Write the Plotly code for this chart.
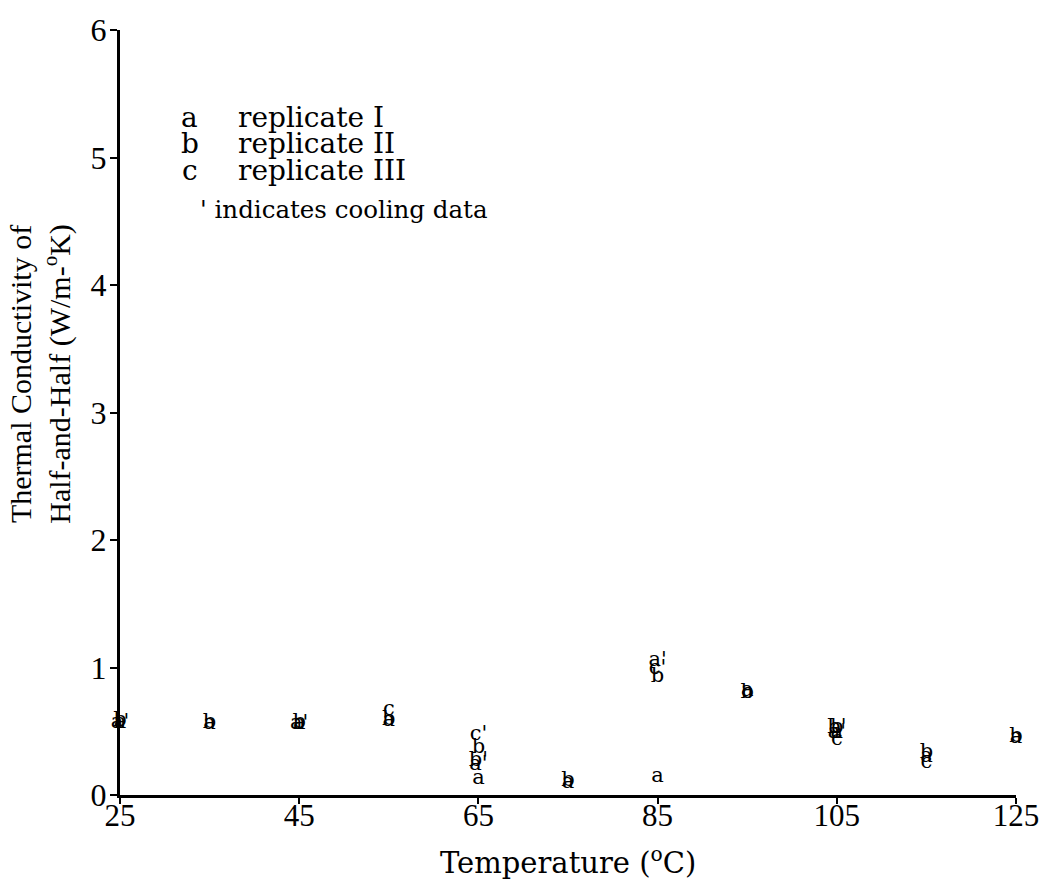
import plotly.graph_objects as go

# ---- data ----
# replicate I (a)
a_heat_t = [25, 35, 45, 55, 65, 75, 85, 95, 105, 115, 125]
a_heat_k = [0.57, 0.56, 0.56, 0.58, 0.13, 0.10, 0.14, 0.82, 0.49, 0.30, 0.45]
a_cool_t = [25, 45, 65, 85, 105]
a_cool_k = [0.57, 0.56, 0.24, 1.05, 0.49]
# replicate II (b)
b_heat_t = [25, 35, 45, 55, 65, 75, 85, 95, 105, 115, 125]
b_heat_k = [0.58, 0.57, 0.57, 0.59, 0.37, 0.11, 0.93, 0.80, 0.53, 0.33, 0.46]
b_cool_t = [65, 105]
b_cool_k = [0.27, 0.53]
# replicate III (c)
c_heat_t = [55, 95, 105, 115]
c_heat_k = [0.67, 0.80, 0.43, 0.25]
c_cool_t = [65, 85]
c_cool_k = [0.47, 0.99]

x_ticks = [25, 45, 65, 85, 105, 125]
y_ticks = [0, 1, 2, 3, 4, 5, 6]

legend_lines = [("a", "replicate I"), ("b", "replicate II"), ("c", "replicate III")]
legend_note = "' indicates cooling data"

SERIF_WIDE = "DejaVu Serif"
SERIF_NARROW = "Liberation Serif"
mark_font = dict(family=SERIF_WIDE, size=21, color="black")

fig = go.Figure()
series = [
    ("a", a_heat_t, a_heat_k, ""), ("a", a_cool_t, a_cool_k, "'"),
    ("b", b_heat_t, b_heat_k, ""), ("b", b_cool_t, b_cool_k, "'"),
    ("c", c_heat_t, c_heat_k, ""), ("c", c_cool_t, c_cool_k, "'"),
]
for letter, xs, ys, suffix in series:
    fig.add_trace(go.Scatter(
        x=xs, y=ys, mode="text", text=[letter + suffix] * len(xs),
        textposition="middle center", textfont=mark_font,
        showlegend=False, hoverinfo="skip", cliponaxis=False))

annotations = []
ys_leg = [0.886, 0.851, 0.816]
for (letter, label), yp in zip(legend_lines, ys_leg):
    annotations.append(dict(xref="paper", yref="paper", x=0.078, y=yp, text=letter,
                            showarrow=False, xanchor="center", yanchor="middle",
                            font=dict(family=SERIF_WIDE, size=28, color="black")))
    annotations.append(dict(xref="paper", yref="paper", x=0.129, y=yp, text=label,
                            showarrow=False, xanchor="left", yanchor="middle",
                            font=dict(family=SERIF_WIDE, size=28, color="black")))
annotations.append(dict(xref="paper", yref="paper", x=0.087, y=0.766, text=legend_note,
                        showarrow=False, xanchor="left", yanchor="middle",
                        font=dict(family=SERIF_WIDE, size=24.5, color="black")))
annotations.append(dict(xref="paper", yref="paper", x=0.5, y=-0.086,
                        text="Temperature (<sup>o</sup>C)", showarrow=False,
                        xanchor="center", yanchor="middle",
                        font=dict(family=SERIF_WIDE, size=29, color="black")))
annotations.append(dict(xref="paper", yref="paper", x=-0.089, y=0.551,
                        text="Thermal Conductivity of<br>Half-and-Half (W/m-<sup>o</sup>K)",
                        showarrow=False, textangle=-90, xanchor="center", yanchor="middle",
                        font=dict(family=SERIF_NARROW, size=30, color="black")))

fig.update_layout(
    width=1051, height=888,
    margin=dict(l=120, r=33, t=20, b=93),
    paper_bgcolor="white", plot_bgcolor="white",
    annotations=annotations,
    font=dict(family=SERIF_NARROW, color="black"),
)
fig.update_xaxes(range=[25, 125], tickvals=x_ticks, ticktext=[str(v) for v in x_ticks],
                 showgrid=False, zeroline=False, showline=True, linecolor="black",
                 linewidth=3, ticks="outside", ticklen=6, tickwidth=2, tickcolor="black",
                 ticklabelstandoff=-15,
                 tickfont=dict(family=SERIF_NARROW, size=31, color="black"))
fig.update_yaxes(range=[0, 6], tickvals=y_ticks, ticktext=[str(v) for v in y_ticks],
                 showgrid=False, zeroline=False, showline=True, linecolor="black",
                 linewidth=3, ticks="outside", ticklen=7, tickwidth=2, tickcolor="black",
                 ticklabelstandoff=-3,
                 tickfont=dict(family=SERIF_NARROW, size=32, color="black"))

fig.write_html("out.html")
